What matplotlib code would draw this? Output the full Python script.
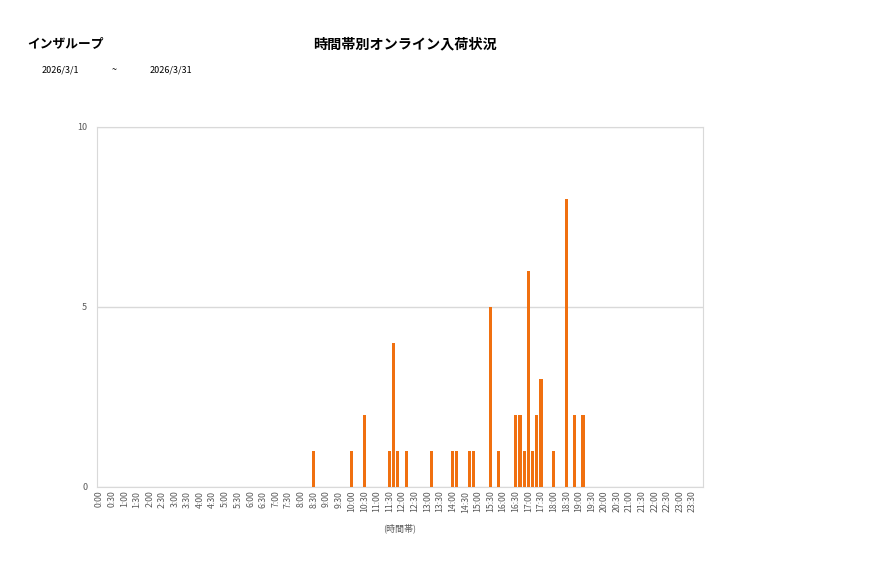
import matplotlib
matplotlib.use("Agg")
import matplotlib.pyplot as plt
import numpy as np

plt.rcParams['font.family'] = ['Noto Sans CJK JP', 'DejaVu Sans']

# 10-minute bins with arrivals (others are zero)
times = ['8:30', '10:00', '10:30', '11:30', '11:40', '11:50', '12:10', '13:10',
         '14:00', '14:10', '14:40', '14:50', '15:30', '15:50', '16:30', '16:40',
         '16:50', '17:00', '17:10', '17:20', '17:30', '18:00', '18:30', '18:50',
         '19:10']
counts = [1, 1, 2, 1, 4, 1, 1, 1,
          1, 1, 1, 1, 5, 1, 2, 2,
          1, 6, 1, 2, 3, 1, 8, 2,
          2]

bins = ['%d:%02d' % (h, m) for h in range(24) for m in range(0, 60, 10)]
values = np.zeros(len(bins))
for t, c in zip(times, counts):
    values[bins.index(t)] = c

fig = plt.figure(figsize=(8.77, 5.78), dpi=100)
ax = fig.add_axes([97 / 877, 1 - 486.5 / 578, 606 / 877, 359.5 / 578])

x = np.arange(len(bins))
ax.bar(x, values, width=0.75, color='#f07010', zorder=3)

ax.set_xlim(-0.5, len(bins) - 0.5)
ax.set_ylim(0, 10)
ax.set_yticks([0, 5, 10])
ax.yaxis.grid(True, color='#d9d9d9', linewidth=1, zorder=0)
ax.set_xticks(x[::3])
ax.set_xticklabels(bins[::3], rotation=90, fontsize=6.3, color='#595959')
ax.tick_params(axis='y', labelsize=6.5, labelcolor='#595959', length=0, pad=7)
ax.tick_params(axis='x', length=0, pad=3)
for s in ax.spines.values():
    s.set_color('#d9d9d9')

ax.set_xlabel('(時間帯)', fontsize=6.5, color='#595959', labelpad=8)

fig.text(27 / 877, 1 - 44 / 578, 'インザループ', fontsize=9.2, fontweight='bold',
         va='center', ha='left')
fig.text(405 / 877, 1 - 44 / 578, '時間帯別オンライン入荷状況', fontsize=10.2,
         fontweight='bold', va='center', ha='center')
fig.text(42 / 877, 1 - 70 / 578, '2026/3/1', fontsize=6.5, va='center')
fig.text(112 / 877, 1 - 70 / 578, '~', fontsize=6.5, va='center')
fig.text(150 / 877, 1 - 70 / 578, '2026/3/31', fontsize=6.5, va='center')

fig.savefig('out.png', dpi=100)
